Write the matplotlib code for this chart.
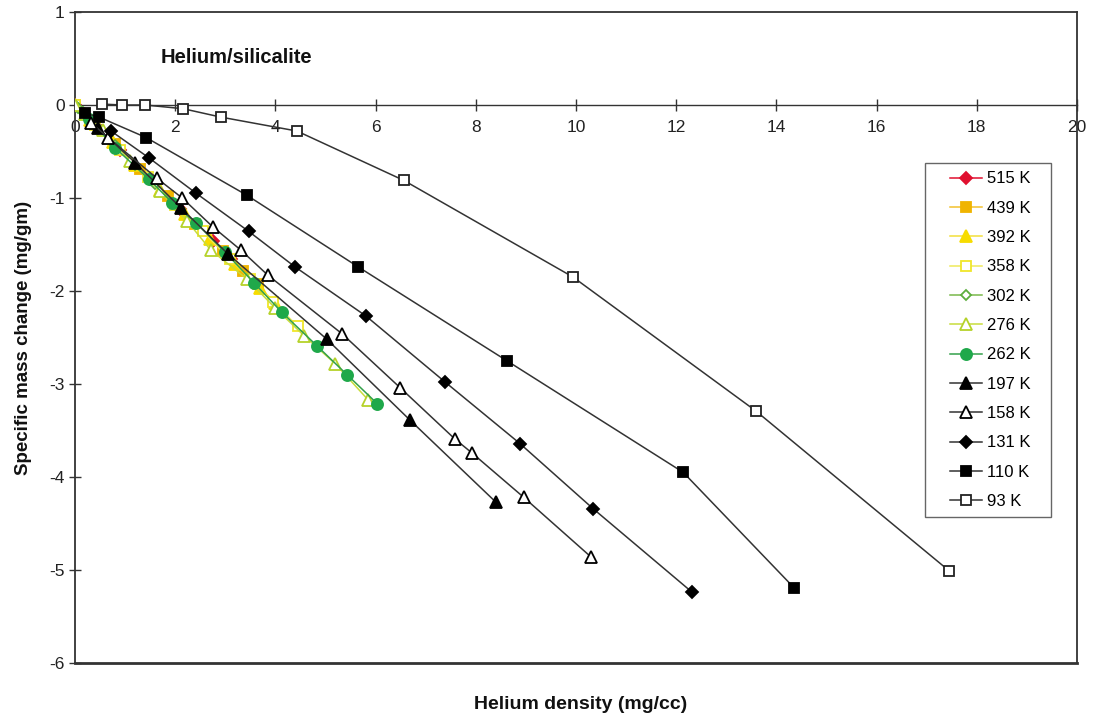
import matplotlib
matplotlib.use("Agg")
import matplotlib.pyplot as plt
from matplotlib.legend_handler import HandlerLine2D

plt.rcParams['font.family'] = ['Liberation Sans', 'DejaVu Sans']

# ---- data ----
x_515 = [0, 0.40, 0.90, 1.50, 2.10, 2.75, 3.12]
y_515 = [0, -0.21, -0.48, -0.80, -1.12, -1.46, -1.66]

x_439 = [0, 0.35, 0.80, 1.30, 1.85, 2.40, 2.95, 3.35, 3.65]
y_439 = [0, -0.18, -0.42, -0.69, -0.98, -1.28, -1.57, -1.78, -1.93]

x_392 = [0, 0.30, 0.75, 1.20, 1.70, 2.20, 2.70, 3.20, 3.70, 4.00]
y_392 = [0, -0.16, -0.40, -0.64, -0.91, -1.17, -1.44, -1.71, -1.97, -2.13]

x_358 = [0, 0.40, 0.90, 1.45, 2.00, 2.55, 3.10, 3.50, 3.95, 4.45]
y_358 = [0, -0.21, -0.48, -0.77, -1.07, -1.36, -1.66, -1.87, -2.12, -2.38]

x_302 = [0, 0.05, 0.15, 0.30, 0.50, 0.80, 1.20, 1.60, 2.10]
y_302 = [0, -0.03, -0.08, -0.16, -0.27, -0.43, -0.64, -0.85, -1.12]

x_276 = [0, 0.20, 0.56, 1.10, 1.70, 2.24, 2.71, 3.43, 3.99, 4.57, 5.19, 5.85]
y_276 = [0, -0.10, -0.27, -0.60, -0.93, -1.25, -1.56, -1.87, -2.18, -2.48, -2.78, -3.17]

x_262 = [0.28, 0.80, 1.48, 1.94, 2.42, 2.99, 3.57, 4.13, 4.83, 5.43, 6.03]
y_262 = [-0.15, -0.46, -0.80, -1.05, -1.27, -1.58, -1.91, -2.23, -2.59, -2.90, -3.21]

x_197 = [0.46, 1.20, 2.12, 3.05, 5.03, 6.69, 8.40]
y_197 = [-0.25, -0.62, -1.11, -1.60, -2.52, -3.39, -4.27]

x_158 = [0.32, 0.66, 1.64, 2.14, 2.75, 3.31, 3.85, 5.33, 6.49, 7.58, 7.92, 8.96, 10.30]
y_158 = [-0.19, -0.35, -0.79, -1.00, -1.31, -1.56, -1.83, -2.46, -3.04, -3.59, -3.74, -4.22, -4.86]

x_131 = [0.72, 1.48, 2.42, 3.47, 4.39, 5.81, 7.39, 8.88, 10.34, 12.32]
y_131 = [-0.28, -0.57, -0.95, -1.36, -1.74, -2.27, -2.98, -3.64, -4.34, -5.24]

x_110 = [0.20, 0.48, 1.42, 3.43, 5.65, 8.62, 12.14, 14.35]
y_110 = [-0.09, -0.13, -0.35, -0.97, -1.74, -2.75, -3.95, -5.19]

x_93 = [0.54, 0.94, 1.40, 2.16, 2.91, 4.43, 6.56, 9.94, 13.59, 17.45]
y_93 = [0.01, 0.00, 0.00, -0.04, -0.13, -0.28, -0.81, -1.85, -3.29, -5.01]

labels = ['515 K', '439 K', '392 K', '358 K', '302 K', '276 K', '262 K',
          '197 K', '158 K', '131 K', '110 K', '93 K']
xs = [x_515, x_439, x_392, x_358, x_302, x_276, x_262, x_197, x_158, x_131, x_110, x_93]
ys = [y_515, y_439, y_392, y_358, y_302, y_276, y_262, y_197, y_158, y_131, y_110, y_93]

x_ticks = [0, 2, 4, 6, 8, 10, 12, 14, 16, 18, 20]
y_ticks = [1, 0, -1, -2, -3, -4, -5, -6]

# ---- styles ----
styles = [
    dict(color='#e0102f', marker='D', ms=6, mfc='#e0102f', mec='#e0102f'),
    dict(color='#f2c12e', marker='s', ms=7.5, mfc='#f0b400', mec='#f0b400'),
    dict(color='#f3df3a', marker='^', ms=8, mfc='#f7dc00', mec='#f7dc00'),
    dict(color='#efe95a', marker='s', ms=7.5, mfc='white', mec='#f0e62a'),
    dict(color='#79b84a', marker='D', ms=5, mfc='white', mec='#5cae3c'),
    dict(color='#c8dc3c', marker='^', ms=8, mfc='white', mec='#b5d22a'),
    dict(color='#33a04a', marker='o', ms=8, mfc='#1fa84a', mec='#1fa84a'),
    dict(color='#333333', marker='^', ms=8, mfc='black', mec='black'),
    dict(color='#333333', marker='^', ms=8, mfc='white', mec='black'),
    dict(color='#333333', marker='D', ms=6, mfc='black', mec='black'),
    dict(color='#333333', marker='s', ms=7.5, mfc='black', mec='black'),
    dict(color='#333333', marker='s', ms=7.5, mfc='white', mec='#222222'),
]


class ShiftedHandler(HandlerLine2D):
    """Legend line drawn on the right part of the handle box (extra left padding)."""
    def __init__(self, lead=15, **kw):
        super().__init__(**kw)
        self.lead = lead

    def get_xdata(self, legend, xdescent, ydescent, width, height, fontsize):
        x0 = -xdescent + self.lead
        x1 = -xdescent + width
        return [x0, x1], [(x0 + x1) / 2]


fig = plt.figure(figsize=(10.93, 7.14), dpi=100)
ax = fig.add_axes([75 / 1093, 1 - 663 / 714, 1002 / 1093, 651 / 714])

lines = []
for i, (xv, yv, lab, st) in enumerate(zip(xs, ys, labels, styles)):
    ln, = ax.plot(xv, yv, label=lab, lw=1.1, mew=1.3, zorder=3 + i, **st)
    lines.append(ln)

ax.set_xlim(0, 20)
ax.set_ylim(-6, 1)
ax.set_xticks(x_ticks)
ax.set_yticks(y_ticks)
ax.set_xticklabels([str(t) for t in x_ticks])
ax.set_yticklabels([str(t) for t in y_ticks])

for s in ax.spines.values():
    s.set_color('#333333')
    s.set_linewidth(1.3)
ax.spines['bottom'].set_position(('data', 0))
ax.spines['bottom'].set_linewidth(1.0)
ax.axhline(-6, color='#333333', lw=2.0, clip_on=False, zorder=1)

ax.tick_params(axis='both', direction='inout', length=9, width=1.0,
               colors='#333333', labelsize=12.5, labelcolor='#222222')
ax.tick_params(axis='x', pad=6)
ax.tick_params(axis='y', pad=3)

ax.set_xlabel('Helium density (mg/cc)', fontsize=14, fontweight='bold',
              color='#111111')
ax.xaxis.set_label_coords(0.505, -0.05)
ax.set_ylabel('Specific mass change (mg/gm)', fontsize=13.5, fontweight='bold',
              color='#111111')
ax.yaxis.set_label_coords(-0.043, 0.5)

ax.text(1.7, 0.51, 'Helium/silicalite', fontsize=14.5, fontweight='bold',
        va='center', ha='left', color='#111111')

handler = ShiftedHandler(lead=12)
leg = ax.legend(handles=lines, loc='upper left',
                bbox_to_anchor=(0.8483, 0.2, 0.1257, 0.568), mode='expand',
                handler_map={ln: handler for ln in lines},
                fontsize=12, frameon=True, fancybox=False, edgecolor='#666666',
                framealpha=1, labelspacing=0.86, handlelength=2.95,
                handletextpad=0.3, borderpad=0.5, borderaxespad=0)
leg.get_frame().set_linewidth(1.0)

fig.savefig('out.png', dpi=100)
